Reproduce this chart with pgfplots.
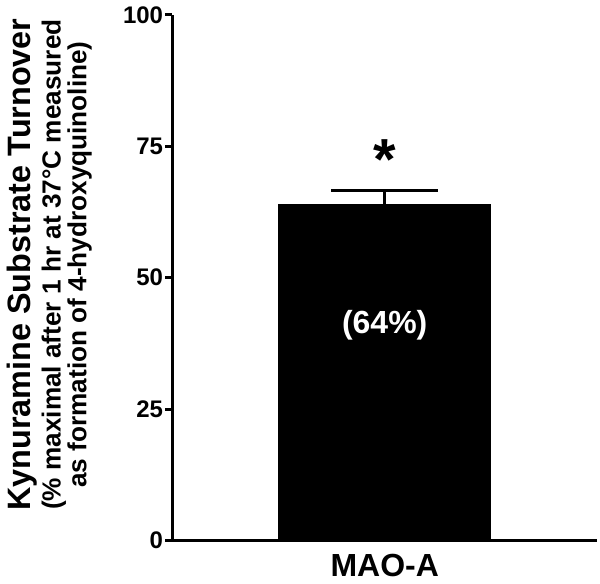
\documentclass[border=0pt]{standalone}
\usepackage{fontspec}
\setmainfont{Liberation Sans}
\usepackage{pgfplots}
\pgfplotsset{compat=1.18}
\begin{document}
\begin{tikzpicture}
\begin{axis}[
  scale only axis, width=212.5pt, height=263pt,
  xmin=0, xmax=2, ymin=0, ymax=100,
  axis x line*=bottom, axis y line*=left,
  axis line style={line width=1.5pt, black},
  ytick={0,25,50,75,100},
  xtick={1}, xticklabels={MAO-A},
  x tick style={draw=none},
  y tick style={line width=1.5pt, black},
  tick align=outside,
  major tick length=3.5pt,
  /pgf/number format/assume math mode=true,
  yticklabel style={font=\fontsize{12}{12}\selectfont\bfseries, inner sep=1pt},
  xticklabel style={font=\fontsize{16}{16}\selectfont\bfseries},
  clip=false,
]
\addplot[ybar, bar width=1, fill=black, draw=black,
  error bars/.cd, y dir=plus, y explicit,
  error bar style={line width=1.3pt, black},
  error mark=|,
  error mark options={line width=1.3pt, mark size=26.75pt, black}]
  coordinates {(1,64) +- (0,2.6)};
\node[font=\fontsize{16}{16}\selectfont\bfseries, text=white] at (axis cs:1,41) {(64\%)};
\node[font=\fontsize{29}{29}\selectfont\bfseries] at (axis cs:1,72.5) {*};
\node[rotate=90, font=\fontsize{16.2}{16}\selectfont\bfseries] at (axis description cs:-0.355,0.525) {Kynuramine Substrate Turnover};
\node[rotate=90, align=center, font=\fontsize{13.1}{13}\selectfont\bfseries] at (axis description cs:-0.249,0.525) {(\% maximal after 1 hr at 37°C measured\\as formation of 4-hydroxyquinoline)};
\path (rel axis cs:-0.4047,-0.076) rectangle (rel axis cs:1.0071,1.0285);
\end{axis}
\end{tikzpicture}
\end{document}
